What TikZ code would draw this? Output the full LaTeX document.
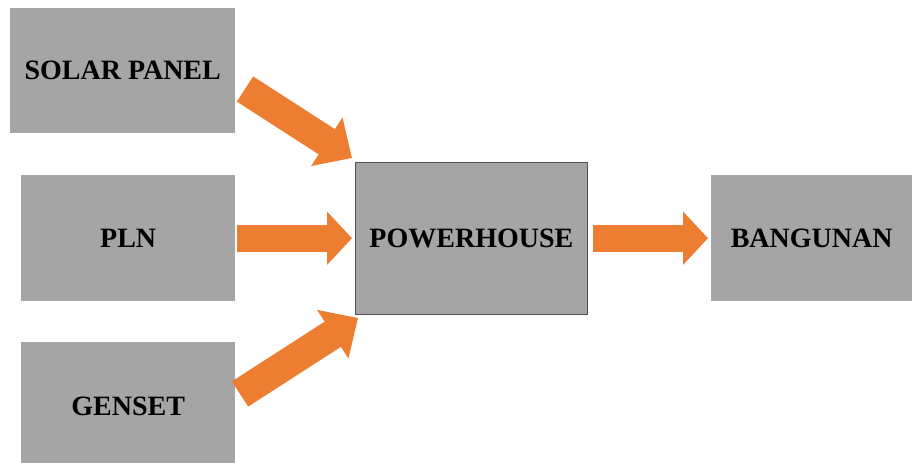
\documentclass[tikz,border=0pt]{standalone}
\usepackage{fontspec}
\setmainfont{Liberation Serif}
\usetikzlibrary{arrows.meta}
\definecolor{boxgray}{HTML}{A5A5A5}
\definecolor{arroworange}{HTML}{ED7D31}
\definecolor{edgegray}{HTML}{505050}
\begin{document}
\begin{tikzpicture}[x=1pt,y=-1pt,
  block/.style={fill=boxgray, draw=none, inner sep=0pt, anchor=north west,
    font=\fontsize{28}{30}\selectfont\bfseries, text=black},
  harrow/.style={draw=arroworange, line width=27pt,
    -{Triangle[length=25pt,width=52pt]}, arroworange},
  darrow/.style={draw=arroworange, line width=30pt,
    -{Triangle[length=30pt,width=56pt]}, arroworange}]
\useasboundingbox (0,0) rectangle (914,463);
\begin{scope}
\clip (0,0) rectangle (914,463);
\node[block, minimum width=225pt, minimum height=125pt] (sp) at (10,8) {SOLAR PANEL};
\node[block, minimum width=214pt, minimum height=126pt] (pln) at (21,175) {PLN};
\node[block, minimum width=214pt, minimum height=128pt] (gen) at (21,342) {GENSET};
\node[block, draw=edgegray, line width=0.8pt, minimum width=232pt, minimum height=152pt] (ph) at (355,162) {POWERHOUSE};
\node[block, minimum width=201pt, minimum height=126pt] (bg) at (711,175) {BANGUNAN};
\coordinate (s1) at (245,89);
\coordinate (s2) at (352,158);
\coordinate (g1) at (240,394);
\coordinate (g2) at (358,318);
\draw[darrow] (s1) -- (s2);
\draw[darrow] (g1) -- (g2);
\draw[harrow, shorten <=2pt, shorten >=3pt] (pln.east) -- (pln.east -| ph.west);
\draw[harrow, shorten <=5pt, shorten >=3pt] (ph.east |- bg.west) -- (bg.west);
\end{scope}
\end{tikzpicture}
\end{document}
